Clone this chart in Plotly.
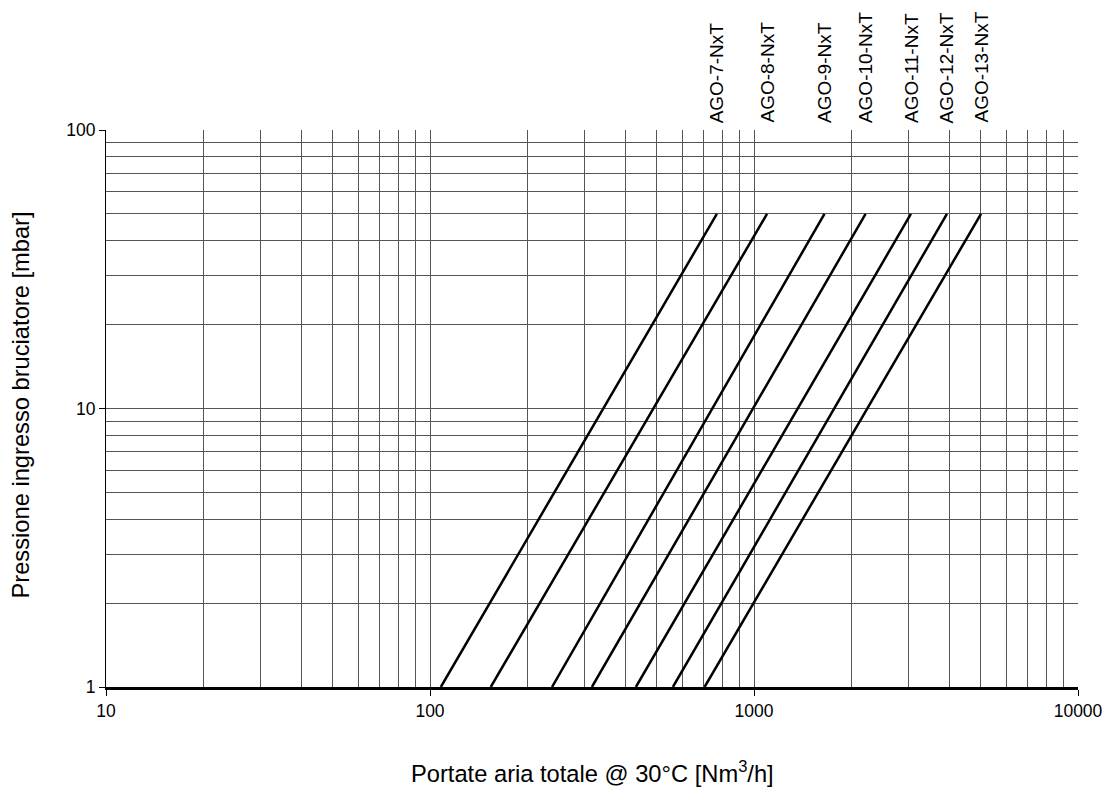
import math
import plotly.graph_objects as go

models = ["AGO-7-NxT", "AGO-8-NxT", "AGO-9-NxT", "AGO-10-NxT", "AGO-11-NxT", "AGO-12-NxT", "AGO-13-NxT"]
flow_at_p_low = [108, 154, 238, 316, 432, 562, 704]      # Nm3/h at 1 mbar
flow_at_p_high = [768, 1097, 1650, 2210, 3050, 3940, 5020]  # Nm3/h at 50 mbar
p_low = 1
p_high = 50

x_major = [10, 100, 1000, 10000]
y_major = [1, 10, 100]
x_minor = [m * d for d in (10, 100, 1000) for m in range(2, 10)]
y_minor = [m * d for d in (1, 10) for m in range(2, 10)]

x_title = "Portate aria totale @ 30°C [Nm<sup>3</sup>/h]"
y_title = "Pressione ingresso bruciatore [mbar]"

FONT = "Liberation Sans, Arial, sans-serif"

fig = go.Figure()
for name, q0, q1 in zip(models, flow_at_p_low, flow_at_p_high):
    fig.add_trace(go.Scatter(x=[q0, q1], y=[p_low, p_high], mode="lines",
                             line=dict(color="black", width=2.5), name=name,
                             showlegend=False, hoverinfo="skip"))
    fig.add_annotation(x=math.log10(q1), xref="x", y=1, yref="paper", text=name,
                       textangle=-90, showarrow=False, xanchor="center",
                       yanchor="bottom", yshift=5,
                       font=dict(family=FONT, size=19, color="black"))

# axis titles
fig.add_annotation(x=0.5, xref="paper", y=0, yref="paper", text=x_title,
                   showarrow=False, xanchor="center", yanchor="middle", yshift=-85,
                   font=dict(family=FONT, size=23.7, color="black"))
fig.add_annotation(x=0, xref="paper", y=0.5, yref="paper", text=y_title,
                   textangle=-90, showarrow=False, xanchor="center", yanchor="middle",
                   xshift=-86, yshift=3,
                   font=dict(family=FONT, size=23.7, color="black"))

grid_col = "#555555"
fig.update_xaxes(type="log", range=[1, 4], tickvals=x_major,
                 ticktext=[str(v) for v in x_major],
                 showgrid=True, gridcolor=grid_col, gridwidth=1,
                 minor=dict(tickvals=x_minor, showgrid=True, gridcolor=grid_col,
                            gridwidth=1, ticks=""),
                 ticks="outside", ticklen=6, tickcolor="black", tickwidth=1,
                 showline=True, linecolor="black", linewidth=2.5,
                 zeroline=False, automargin=False, ticklabeloverflow="allow",
                 tickfont=dict(family=FONT, size=17.5, color="black"))
fig.update_yaxes(type="log", range=[0, 2], tickvals=y_major,
                 ticktext=[str(v) for v in y_major],
                 showgrid=True, gridcolor=grid_col, gridwidth=1,
                 minor=dict(tickvals=y_minor, showgrid=True, gridcolor=grid_col,
                            gridwidth=1, ticks=""),
                 ticks="outside", ticklen=6, tickcolor="black", tickwidth=1,
                 showline=True, linecolor="black", linewidth=1,
                 zeroline=False, automargin=False, ticklabeloverflow="allow",
                 tickfont=dict(family=FONT, size=17.5, color="black"))

fig.update_layout(width=1106, height=787, plot_bgcolor="white", paper_bgcolor="white",
                  margin=dict(l=106, r=28, t=130, b=100),
                  font=dict(family=FONT, color="black"))

# remove the default page margin so the figure fills the window exactly
fig.write_html("out.html", config={"displayModeBar": False},
               post_script="document.body.style.margin='0px';document.body.style.overflow='hidden';")
